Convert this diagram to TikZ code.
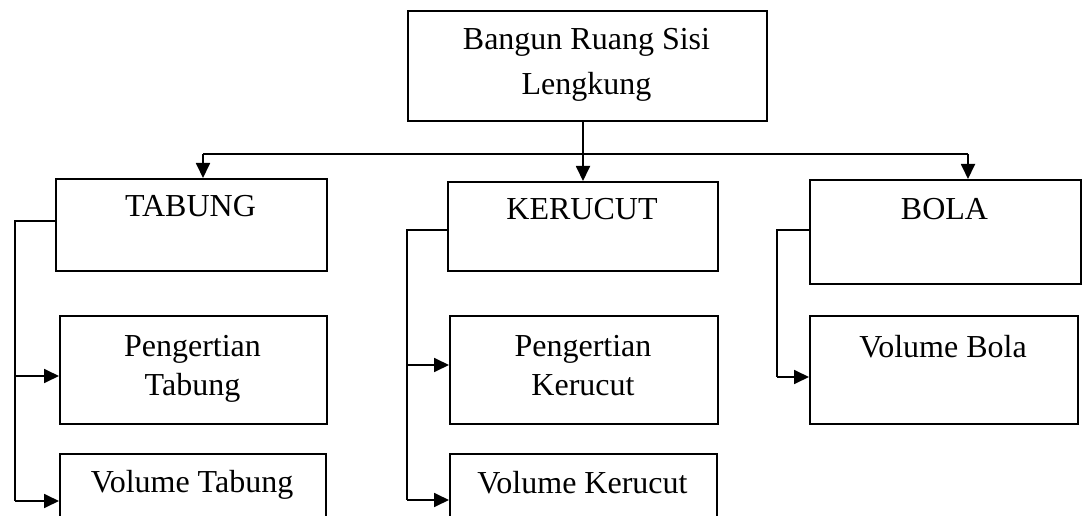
\documentclass[tikz,border=0pt]{standalone}
\usepackage{fontspec}
\setmainfont{Liberation Serif}
\usetikzlibrary{arrows.meta}
\begin{document}
\begin{tikzpicture}[x=1pt,y=-1pt,
  box/.style={draw, line width=1.8pt, inner sep=0pt, anchor=north west},
  lbl/.style={font=\fontsize{32}{39}\selectfont, align=center, anchor=base, inner sep=0pt},
  conn/.style={line width=1.8pt},
  arr/.style={line width=1.8pt, -{Triangle[length=15pt,width=14pt]}}]
\clip (0,0) rectangle (1088,516);
\fill[white] (0,0) rectangle (1088,516);
% boxes
\node[box, minimum width=359pt, minimum height=110pt] (top) at (407,10) {};
\node[box, minimum width=271pt, minimum height=92pt] (tab) at (55,178) {};
\node[box, minimum width=270pt, minimum height=89pt] (ker) at (447,181) {};
\node[box, minimum width=271pt, minimum height=104pt] (bola) at (809,179) {};
\node[box, minimum width=267pt, minimum height=108pt] (ptab) at (59,315) {};
\node[box, minimum width=268pt, minimum height=108pt] (pker) at (449,315) {};
\node[box, minimum width=268pt, minimum height=108pt] (vbola) at (809,315) {};
\node[box, minimum width=266pt, minimum height=100pt] (vtab) at (59,453) {};
\node[box, minimum width=267pt, minimum height=100pt] (vker) at (449,453) {};
% texts (anchor base = baseline of last line)
\node[lbl, font=\fontsize{32}{45}\selectfont] (topT) at (586.5,95) {Bangun Ruang Sisi\\Lengkung};
\node[lbl] (tabT) at (190.5,217) {TABUNG};
\node[lbl] (kerT) at (582,220) {KERUCUT};
\node[lbl] (bolaT) at (944.5,220) {BOLA};
\node[lbl] (ptabT) at (192.5,395) {Pengertian\\Tabung};
\node[lbl] (pkerT) at (583,395) {Pengertian\\Kerucut};
\node[lbl] (vbolaT) at (943,357) {Volume Bola};
\node[lbl] (vtabT) at (192,492) {Volume Tabung};
\node[lbl] (vkerT) at (582.5,493) {Volume Kerucut};
% junction coordinates
\coordinate (hL) at (203,154);
\coordinate (hM) at (583,154);
\coordinate (hR) at (968,154);
\coordinate (bT) at (15,221);
\coordinate (aT1) at (15,376);
\coordinate (aT2) at (15,501);
\coordinate (bK) at (407,230);
\coordinate (aK1) at (407,365);
\coordinate (aK2) at (407,500);
\coordinate (bB) at (777,230);
\coordinate (aB1) at (777,377);
% connectors from top
\draw[conn] (top.south -| hM) -- (hM);
\draw[conn] (hL) -- (hR);
\draw[arr] (hL) -- (hL |- tab.north);
\draw[arr] (hM) -- (hM |- ker.north);
\draw[arr] (hR) -- (hR |- bola.north);
% tabung bracket
\draw[conn] (tab.west |- bT) -- (bT) -- (aT2);
\draw[arr] (aT1) -- (ptab.west |- aT1);
\draw[arr] (aT2) -- (vtab.west |- aT2);
% kerucut bracket
\draw[conn] (ker.west |- bK) -- (bK) -- (aK2);
\draw[arr] (aK1) -- (pker.west |- aK1);
\draw[arr] (aK2) -- (vker.west |- aK2);
% bola bracket
\draw[conn] (bola.west |- bB) -- (bB) -- (aB1);
\draw[arr] (aB1) -- (vbola.west |- aB1);
\end{tikzpicture}
\end{document}
